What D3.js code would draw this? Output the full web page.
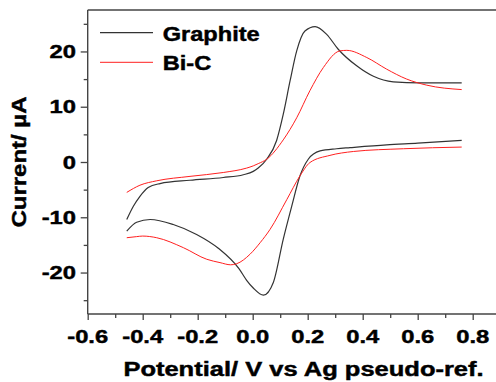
<!DOCTYPE html>
<html><head><meta charset="utf-8">
<script src="https://cdn.jsdelivr.net/npm/d3@7"></script>
<style>body{margin:0;background:#fff}svg{display:block}</style>
</head><body>
<script>
// ---- data ----
const potentialTicks = [-0.6, -0.4, -0.2, 0.0, 0.2, 0.4, 0.6, 0.8];
const potentialMinor = [-0.5, -0.3, -0.1, 0.1, 0.3, 0.5, 0.7, 0.9];
const currentTicks = [-20, -10, 0, 10, 20];
const currentMinor = [-25, -15, -5, 5, 15, 25];
const seriesNames = ["Graphite", "Bi-C"];
const seriesColors = ["#333333", "#ff2020"];

// Graphite: upper branch (anodic scan)
const graphiteUpperV = [-0.458, -0.434, -0.41, -0.38, -0.337, -0.228, -0.107, -0.034, 0.002, 0.02, 0.051, 0.087, 0.111, 0.136, 0.16, 0.19, 0.227, 0.269, 0.311, 0.378, 0.439, 0.511, 0.608, 0.76];
const graphiteUpperI = [-10.4, -8.0, -6.2, -4.6, -3.9, -3.3, -2.8, -2.3, -1.7, -1.1, 0.5, 3.9, 8.6, 14.7, 20.1, 23.7, 24.5, 23.1, 20.4, 17.4, 15.5, 14.5, 14.3, 14.3];
// Graphite: lower branch (cathodic scan)
const graphiteLowerV = [-0.458, -0.422, -0.373, -0.289, -0.204, -0.125, -0.05, -0.022, 0.002, 0.039, 0.075, 0.111, 0.142, 0.172, 0.202, 0.245, 0.305, 0.354, 0.487, 0.6, 0.76];
const graphiteLowerI = [-12.5, -10.9, -10.4, -11.3, -13.1, -15.6, -19.3, -21.4, -22.8, -24.1, -21.8, -14.0, -8.0, -2.5, 0.5, 2.0, 2.4, 2.6, 3.1, 3.4, 3.9];
// Bi-C: upper branch
const bicUpperV = [-0.458, -0.41, -0.349, -0.228, -0.107, -0.022, 0.002, 0.02, 0.051, 0.111, 0.16, 0.208, 0.257, 0.317, 0.342, 0.415, 0.487, 0.56, 0.633, 0.76];
const bicUpperI = [-5.5, -4.2, -3.4, -2.6, -1.9, -1.1, -0.7, -0.3, 0.5, 4.0, 8.0, 12.9, 17.1, 20.1, 20.2, 18.9, 16.8, 15.0, 13.9, 13.1];
// Bi-C: lower branch
const bicLowerV = [-0.458, -0.422, -0.4, -0.349, -0.252, -0.167, -0.119, -0.08, -0.058, -0.01, 0.027, 0.063, 0.124, 0.172, 0.208, 0.281, 0.366, 0.548, 0.76];
const bicLowerI = [-13.7, -13.5, -13.4, -13.7, -15.5, -17.6, -18.2, -18.6, -18.4, -16.7, -14.6, -12.2, -6.8, -2.5, -0.1, 1.2, 1.9, 2.4, 2.7];

// ---- chart ----
const W = 496, H = 382;
const svg = d3.select("body").append("svg").attr("width", W).attr("height", H);
const x = d3.scaleLinear().domain([-0.6, 1.0]).range([87.7, 527.7]);
const y = d3.scaleLinear().domain([-27.5, 27.5]).range([314, 10]);
const FONT = "'Liberation Sans', Arial, Helvetica, sans-serif";
const AX = "#444";

// frame
const frame = svg.append("g").attr("stroke", AX).attr("stroke-width", 1.4).attr("fill", "none");
frame.append("line").attr("x1", x(-0.6)).attr("x2", W + 2).attr("y1", y(27.5)).attr("y2", y(27.5));
frame.append("line").attr("x1", x(-0.6)).attr("x2", W + 2).attr("y1", y(-27.5)).attr("y2", y(-27.5));
frame.append("line").attr("x1", x(-0.6)).attr("x2", x(-0.6)).attr("y1", y(27.5)).attr("y2", y(-27.5));

function styleAxis(g) {
  g.select(".domain").remove();
  g.selectAll("line").attr("stroke", AX).attr("stroke-width", 1.3);
  g.selectAll("text").remove();
}
svg.append("g").attr("transform", `translate(${x(-0.6)},0)`)
  .call(d3.axisLeft(y).tickValues(currentTicks).tickSize(7).tickFormat("")).call(styleAxis);
svg.append("g").attr("transform", `translate(${x(-0.6)},0)`)
  .call(d3.axisLeft(y).tickValues(currentMinor).tickSize(4).tickFormat("")).call(styleAxis);
svg.append("g").attr("transform", `translate(0,${y(-27.5)})`)
  .call(d3.axisBottom(x).tickValues(potentialTicks).tickSize(6).tickFormat("")).call(styleAxis);
svg.append("g").attr("transform", `translate(0,${y(-27.5)})`)
  .call(d3.axisBottom(x).tickValues(potentialMinor).tickSize(4).tickFormat("")).call(styleAxis);

function label(px, py, txt, size, sx, anchor, rot) {
  svg.append("text")
    .attr("transform", `translate(${px},${py})` + (rot ? ` rotate(${rot})` : "") + ` scale(${sx},1)`)
    .attr("text-anchor", anchor)
    .attr("font-family", FONT).attr("font-weight", "bold").attr("font-size", size)
    .attr("fill", "#000").attr("stroke", "#000").attr("stroke-width", 0.45)
    .text(txt);
}
const fmtI = d => String(d);
const fmtV = d => d3.format(".1f")(d).replace("\u2212", "-");
currentTicks.forEach(t => label(76, y(t) + 6.7, fmtI(t), 19, 1.25, "end"));
potentialTicks.forEach(t => label(x(t), 343, fmtV(t), 19, 1.25, "middle"));

label(303.5, 376, "Potential/ V vs Ag pseudo-ref.", 20, 1.275, "middle");
label(26, 162, "Current/ \u00b5A", 20.5, 1.17, "middle", -90);

// curves
const line = d3.line().x(d => x(d[0])).y(d => y(d[1])).curve(d3.curveMonotoneX);
const branches = [
  [graphiteUpperV, graphiteUpperI, 0],
  [graphiteLowerV, graphiteLowerI, 0],
  [bicUpperV, bicUpperI, 1],
  [bicLowerV, bicLowerI, 1]
];
branches.forEach(([vs, is, k]) => {
  svg.append("path").datum(vs.map((v, i) => [v, is[i]]))
    .attr("d", line).attr("fill", "none")
    .attr("stroke", seriesColors[k]).attr("stroke-width", k === 0 ? 1.2 : 1.0);
});

// legend
const legY = [32.7, 62.3];
seriesNames.forEach((n, i) => {
  svg.append("line").attr("x1", 100).attr("x2", 153).attr("y1", legY[i]).attr("y2", legY[i])
    .attr("stroke", seriesColors[i]).attr("stroke-width", i === 0 ? 1.2 : 1.0);
  label(162.7, legY[i] + 7.8, n, 20, 1.18, "start");
});
</script>
</body></html>
